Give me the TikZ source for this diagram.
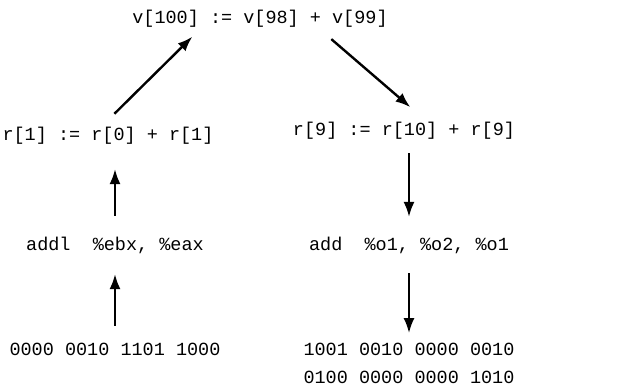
\documentclass[tikz,border=0pt]{standalone}
\usepackage{fontspec}
\setmonofont{Liberation Mono}
\usetikzlibrary{arrows.meta,positioning}

\begin{document}
\begin{tikzpicture}[->,>={Latex[length=15pt,width=11pt]},line width=2.4pt,on grid,
      code/.style={font=\ttfamily\fontsize{18.5}{28}\selectfont},
      code node/.style={code,text height=12pt,text depth=3pt}]
      \useasboundingbox (0,0) rectangle (635pt,386pt);
      \node[code node] (top) at (260pt,367pt) {v[100] := v[98] + v[99]};
      \node[code node] (r1) [below left=117pt and 152pt of top] {r[1] := r[0] + r[1]};
      \node[code node] (r9) [below right=112pt and 144pt of top] {r[9] := r[10] + r[9]};
      \node[code node] (addl) [below right=110pt and 7pt of r1] {addl\ \ \%ebx, \%eax};
      \node[code node] (addo) [below right=115pt and 5pt of r9] {add\ \ \%o1, \%o2, \%o1};
      \node[code node] (bin1) [below=105pt of addl] {0000 0010 1101 1000};
      \node[code,align=center] (bin2) [below=117pt of addo] {1001 0010 0000 0010\\0100 0000 0000 1010};

      \path
        (bin1) edge [shorten <=13pt,shorten >=16pt] (addl)
        (addl) edge [shorten <=18pt,shorten >=21pt] (addl |- r1.south)
        (r1.108) edge [shorten <=14.5pt,shorten >=8pt] (top.191)
        (top.-11) edge [shorten <=12.4pt,shorten >=18pt] (r9.31)
        (r9.south -| addo) edge [shorten <=10pt,shorten >=17pt] (addo)
        (addo) edge [shorten <=15pt,shorten >=5pt] (addo |- bin2.north);
    \end{tikzpicture}
\end{document}
